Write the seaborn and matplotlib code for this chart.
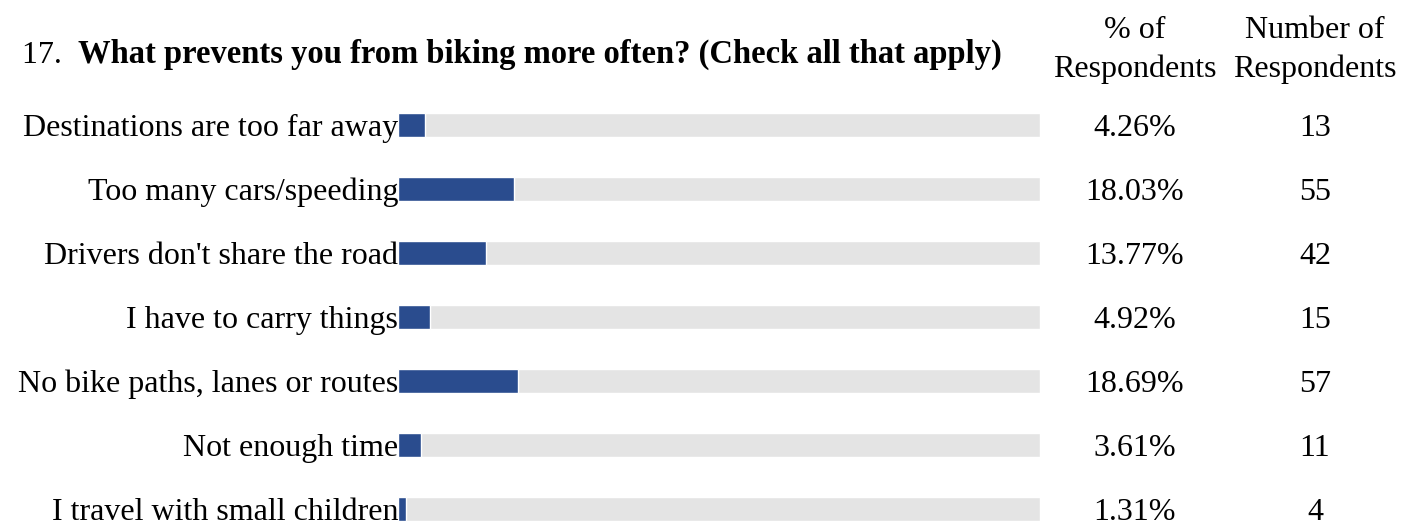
import matplotlib
matplotlib.use("Agg")
import matplotlib.pyplot as plt
import seaborn as sns
import pandas as pd

sns.set_theme(style="white")
plt.rcParams["font.family"] = ["Liberation Serif", "DejaVu Serif"]
plt.rcParams["text.color"] = "black"

# Survey question 17 results
question_no = "17."
question = "What prevents you from biking more often? (Check all that apply)"
categories = [
    "Destinations are too far away",
    "Too many cars/speeding",
    "Drivers don't share the road",
    "I have to carry things",
    "No bike paths, lanes or routes",
    "Not enough time",
    "I travel with small children",
]
pct_values = [4.26, 18.03, 13.77, 4.92, 18.69, 3.61, 1.31]
counts = [13, 55, 42, 15, 57, 11, 4]
full_scale = [100] * len(categories)
col_headers = ["% of\nRespondents", "Number of\nRespondents"]

df = pd.DataFrame({"category": categories, "pct": pct_values,
                   "count": counts, "full": full_scale})

W, H = 1417, 523
fig = plt.figure(figsize=(W / 100, H / 100), dpi=100)
ax_left, ax_right, ax_top = 398, 1040, 93
ax = fig.add_axes([ax_left / W, 0, (ax_right - ax_left) / W, (H - ax_top) / H])

BAR_H = 0.36
FS = 23
sns.barplot(data=df, y="category", x="full", color="#E4E4E4", width=BAR_H,
            saturation=1, ax=ax, orient="h")
sns.barplot(data=df, y="category", x="pct", color="#2A4C8E", width=BAR_H,
            saturation=1, ax=ax, orient="h")

row_px = 64
ax.set_xlim(0, 100)
ax.set_ylim(-0.5 + (H - ax_top) / row_px, -0.5)
ax.set_xlabel("")
ax.set_ylabel("")
ax.set_xticks([])
ax.tick_params(axis="y", length=0, pad=0, labelsize=FS, labelcolor="black")
for s in ax.spines.values():
    s.set_visible(False)

# Value columns to the right of the bars
pct_x, cnt_x = 1135 / W, 1315 / W
for i, (p, c) in enumerate(zip(pct_values, counts)):
    y = ax.transData.transform((0, i))[1] / H
    fig.text(pct_x, y, f"{p:.2f}%", ha="center", va="center_baseline", fontsize=FS)
    fig.text(cnt_x, y, f"{c}", ha="center", va="center_baseline", fontsize=FS)

# Column headers
for x, label in zip((pct_x, cnt_x), col_headers):
    fig.text(x, 1 - 50 / H, label, ha="center", va="center",
             fontsize=FS, linespacing=1.45)

# Title: plain number followed by bold question text
t1 = fig.text(22 / W, 1 - 52 / H, question_no + "  ", ha="left",
              va="center_baseline", fontsize=FS)
fig.canvas.draw()
plt.annotate(question, xy=(1, 0), xycoords=t1, ha="left", va="bottom",
             fontsize=23.5, fontweight="bold", annotation_clip=False)

fig.savefig("out.png", dpi=100, facecolor="white")
